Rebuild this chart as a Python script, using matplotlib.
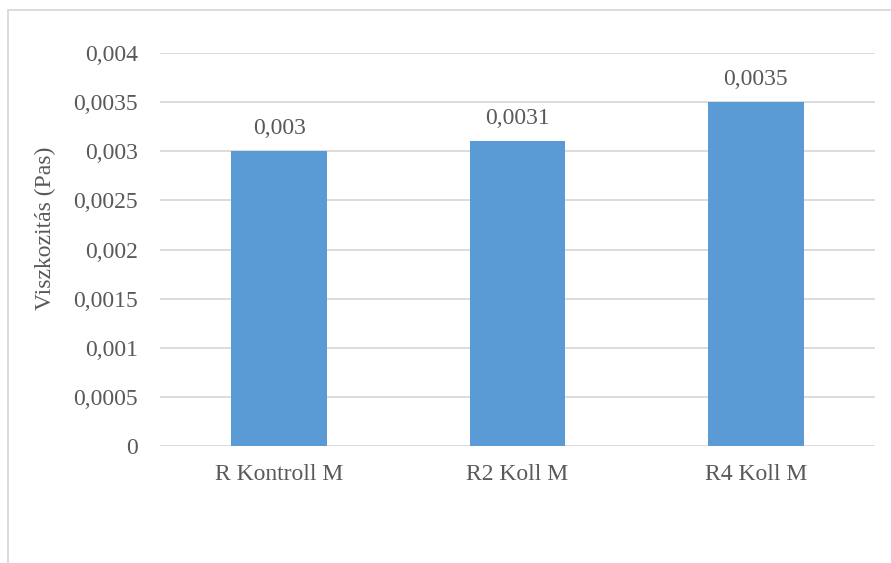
import matplotlib
matplotlib.use("Agg")
import matplotlib.pyplot as plt
from matplotlib.patches import Rectangle

categories = ["R Kontroll M", "R2 Koll M", "R4 Koll M"]
values = [0.003, 0.0031, 0.0035]
value_labels = ["0,003", "0,0031", "0,0035"]
y_ticks = [0, 0.0005, 0.001, 0.0015, 0.002, 0.0025, 0.003, 0.0035, 0.004]
y_tick_labels = ["0", "0,0005", "0,001", "0,0015", "0,002", "0,0025", "0,003", "0,0035", "0,004"]
y_title = "Viszkozitás (Pas)"

W, H = 891, 563
DPI = 100
FS = 17
text_color = "#595959"
grid_color = "#D9D9D9"
bar_color = "#5B9BD5"

plt.rcParams["font.family"] = ["Liberation Serif", "DejaVu Serif"]

fig = plt.figure(figsize=(W / DPI, H / DPI), dpi=DPI)
fig.patch.set_facecolor("white")

# chart frame
fig.add_artist(Rectangle((8 / W, -0.1), 1.2, 1 - 10 / H + 0.1, transform=fig.transFigure,
                         fill=False, edgecolor=grid_color, linewidth=1.3))

left, right, top, bottom = 160, 875, 53, 446
ax = fig.add_axes([left / W, 1 - bottom / H, (right - left) / W, (bottom - top) / H])

x = range(len(categories))
ax.bar(x, values, width=0.4, color=bar_color, zorder=3)
ax.set_xlim(-0.5, len(categories) - 0.5)
ax.set_ylim(0, 0.004)

ax.set_yticks(y_ticks)
ax.set_yticklabels(y_tick_labels)
ax.set_xticks(list(x))
ax.set_xticklabels(categories)
ax.tick_params(axis="y", length=0, pad=16, labelsize=FS, labelcolor=text_color)
ax.tick_params(axis="x", length=0, pad=13, labelsize=FS, labelcolor=text_color)

ax.grid(axis="y", color=grid_color, linewidth=1.3, zorder=0)
for s in ax.spines.values():
    s.set_visible(False)

for xi, v, lab in zip(x, values, value_labels):
    ax.annotate(lab, (xi, v), xytext=(0, 9), textcoords="offset points",
                ha="center", va="bottom", fontsize=FS, color=text_color)

fig.text(45 / W, 1 - 228 / H, y_title, rotation=90, ha="center", va="center",
         fontsize=FS, color=text_color)

fig.savefig("out.png", dpi=DPI)
